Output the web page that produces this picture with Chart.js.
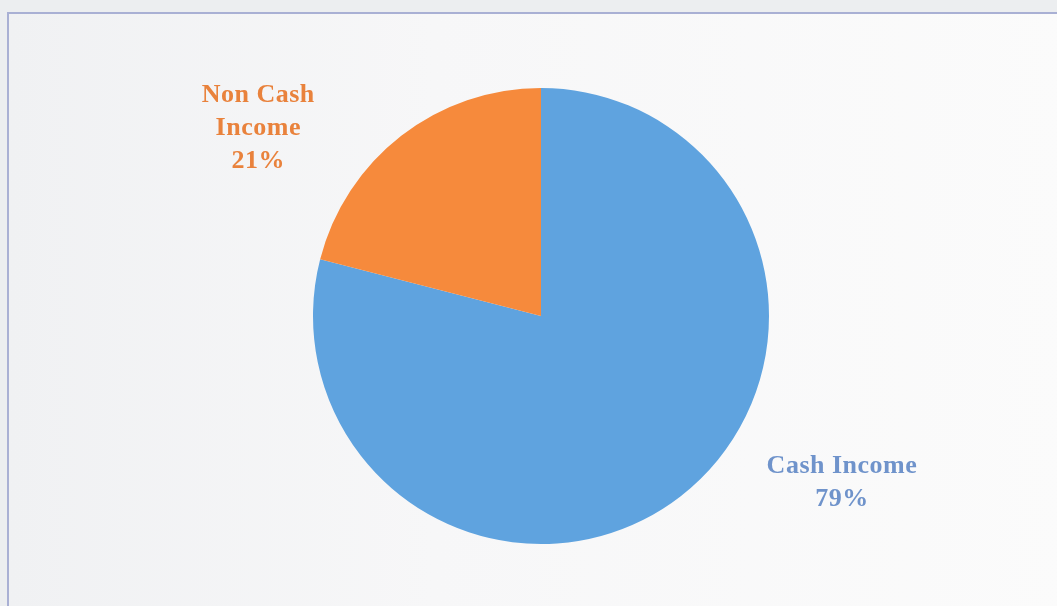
<!DOCTYPE html>
<html>
<head>
<meta charset="utf-8">
<script src="https://cdn.jsdelivr.net/npm/chart.js@4.4.0/dist/chart.umd.min.js"></script>
<style>
  html, body { margin: 0; padding: 0; background: #eceef0; }
  #wrap {
    position: absolute; left: 7px; top: 12px; width: 1060px; height: 600px;
    border-left: 2px solid #a9b0d4; border-top: 2px solid #a9b0d4;
    background: linear-gradient(90deg, #f0f1f3 0%, #f7f7f8 40%, #fbfbfb 100%);
  }
  #box { position: absolute; left: 0; top: 0; width: 1057px; height: 606px; }
</style>
</head>
<body>
<div id="wrap"></div>
<div id="box"><canvas id="pieChart" width="1057" height="606"></canvas></div>
<script>
const categories = ['Cash Income', 'Non Cash Income'];
const shares = [79, 21];
const sliceColors = ['#5fa3df', '#f68a3c'];
const labelColors = ['#6f93cb', '#e9823c'];
const labelLines = [['Cash Income', '79%'], ['Non Cash', 'Income', '21%']];

// label anchors as multiples of the pie radius from its centre
const labelAnchor = [[1.32, 0.73], [-1.24, -0.825]];

const sliceLabels = {
    id: 'sliceLabels',
    afterDraw(chart) {
        const ctx = chart.ctx;
        const arcs = chart.getDatasetMeta(0).data;
        ctx.save();
        ctx.textAlign = 'center';
        ctx.textBaseline = 'middle';
        arcs.forEach((arc, i) => {
            const r = arc.outerRadius;
            const x = arc.x + labelAnchor[i][0] * r;
            const y = arc.y + labelAnchor[i][1] * r;
            const lines = labelLines[i];
            const lh = 33;
            ctx.fillStyle = labelColors[i];
            ctx.font = 'bold 26px "Liberation Serif", "Times New Roman", serif';
            ctx.letterSpacing = '0.5px';
            lines.forEach((t, k) => {
                ctx.fillText(t, x, y + (k - (lines.length - 1) / 2) * lh);
            });
        });
        ctx.restore();
    }
};

const pieCtx = document.getElementById('pieChart').getContext('2d');
const pieChart = new Chart(pieCtx, {
    type: 'pie',
    data: {
        labels: categories,
        datasets: [{
            data: shares,
            backgroundColor: sliceColors,
            borderWidth: 0,
        }],
    },
    options: {
        responsive: false,
        animation: false,
        layout: {
            padding: { left: 313, right: 288, top: 88, bottom: 62 },
        },
        plugins: {
            legend: { display: false },
            tooltip: { enabled: false },
        },
    },
    plugins: [sliceLabels],
});
</script>
</body>
</html>
